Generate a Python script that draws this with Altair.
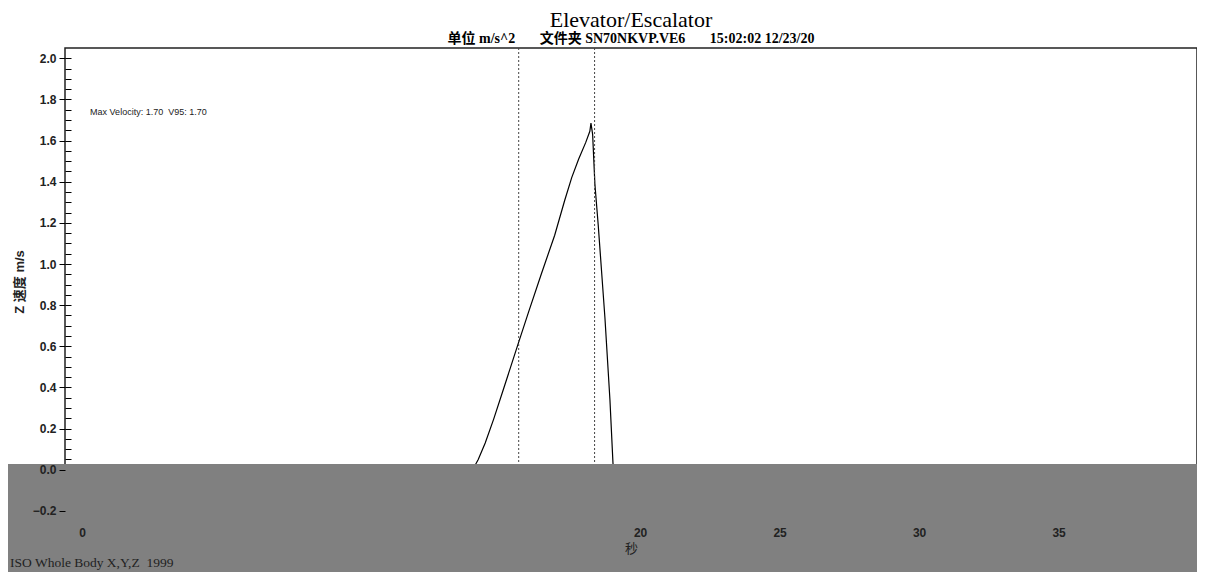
import altair as alt
import pandas as pd

# ---- data ----
time_s = [0.0, 14.0, 14.2, 14.45, 14.75, 15.1, 15.65, 16.0, 16.47, 16.94, 17.3, 17.55,
          17.8, 18.05, 18.2, 18.24, 18.3, 18.38, 18.5, 18.74, 18.92, 19.03, 19.1, 39.9]
velocity = [0.0, 0.0, 0.05, 0.13, 0.245, 0.39, 0.62, 0.765, 0.955, 1.14, 1.31, 1.42,
            1.51, 1.59, 1.645, 1.685, 1.63, 1.39, 1.19, 0.74, 0.34, 0.03, 0.0, 0.0]
marker_times = [15.65, 18.37]
x_tick_values = [0, 20, 25, 30, 35]
y_tick_values = [-0.2, 0.0, 0.2, 0.4, 0.6, 0.8, 1.0, 1.2, 1.4, 1.6, 1.8, 2.0]
y_minor_values = [round(-0.2 + 0.05 * i, 2) for i in range(45)]
annotation_text = ["Max Velocity: 1.70\u00a0\u00a0V95: 1.70"]
annotation_t = [0.29]
annotation_v = [1.74]
footer_text = ["ISO Whole Body X,Y,Z\u00a0\u00a01999"]
title_text = "Elevator/Escalator"
subtitle_text = ("单位 m/s^2" + "\u00a0" * 7 + "文件夹 SN70NKVP.VE6" + "\u00a0" * 7
                 + "15:02:02 12/23/20" + "\u00a0" * 11)

W, H = 1132, 467
PAD = {"left": 57, "top": 40, "right": 0, "bottom": 57}

xs = alt.Scale(domain=[-0.61, 39.96], nice=False, zero=False)
ys = alt.Scale(domain=[-0.22, 2.05], nice=False, zero=False)

df = pd.DataFrame({"t": time_s, "v": velocity})
markers = pd.DataFrame({"t": marker_times})
annot = pd.DataFrame({"t": annotation_t, "v": annotation_v, "label": annotation_text})
footer = pd.DataFrame({"label": footer_text})
one = pd.DataFrame({"a": [0]})

SANS = "Liberation Sans, Noto Sans CJK SC"
SERIF = "Liberation Serif, Noto Sans CJK SC"

x_axis = alt.Axis(
    values=x_tick_values, title="秒", domain=False, ticks=False, grid=False,
    labelPadding=12, labelFont=SANS, labelFontSize=12, labelFontWeight="bold",
    labelColor="#222222", titleFont=SANS, titleFontSize=13, titleFontWeight="normal",
    titleColor="#222222", titlePadding=4, zindex=2)

line = alt.Chart(df).mark_line(color="black", strokeWidth=1.2).encode(
    x=alt.X("t:Q", scale=xs, axis=x_axis),
    y=alt.Y("v:Q", scale=ys, axis=alt.Axis(
        orient="left", values=y_tick_values, format=".1f", title="Z 速度 m/s",
        domain=False, grid=False, tickSize=6, tickColor="black", tickWidth=1,
        labelPadding=3, labelFont=SANS, labelFontSize=12, labelFontWeight="bold",
        labelColor="#222222", titleFont=SANS, titleFontSize=13, titleFontWeight="bold",
        titleColor="#222222", titlePadding=6, zindex=2)),
)

rules = alt.Chart(markers).mark_rule(color="#444444", strokeWidth=1, strokeDash=[2, 2]).encode(
    x=alt.X("t:Q", scale=xs, axis=x_axis)
)

annot_layer = alt.Chart(annot).mark_text(
    align="left", baseline="middle", font=SANS, fontSize=9, color="#222222"
).encode(
    x=alt.X("t:Q", scale=xs, axis=x_axis),
    y=alt.Y("v:Q", scale=ys, axis=alt.Axis(
        orient="left", values=y_minor_values, labels=False, domain=False, grid=False,
        tickSize=6, tickColor="black", tickWidth=1, offset=-6, title=None, zindex=0)),
    text="label:N",
)

band = alt.Chart(one).mark_rect(color="#808080", clip=False).encode(
    x=alt.value(-PAD["left"]), x2=alt.value(W + PAD["right"]),
    y=alt.value(416), y2=alt.value(H + PAD["bottom"]),
)

footer_layer = alt.Chart(footer).mark_text(
    align="left", baseline="alphabetic", font=SERIF, fontSize=13.5, color="#222222"
).encode(
    x=alt.value(-55), y=alt.value(H + 52), text="label:N"
)

chart = alt.layer(line, rules, annot_layer, band, footer_layer).resolve_axis(
    y="independent"
).properties(
    width=W, height=H,
    autosize=alt.AutoSizeParams(type="none"),
    padding=PAD,
    background="white",
    title=alt.TitleParams(
        text=title_text, subtitle=subtitle_text, anchor="middle",
        font=SERIF, fontSize=22, fontWeight="normal", color="black",
        subtitleFont=SERIF, subtitleFontSize=14, subtitleFontWeight="bold",
        subtitleColor="black", subtitlePadding=0, offset=1,
    ),
).configure_view(stroke="#222222", strokeWidth=1.5)

chart.save("out.html", embed_options={"renderer": "svg", "actions": False})
